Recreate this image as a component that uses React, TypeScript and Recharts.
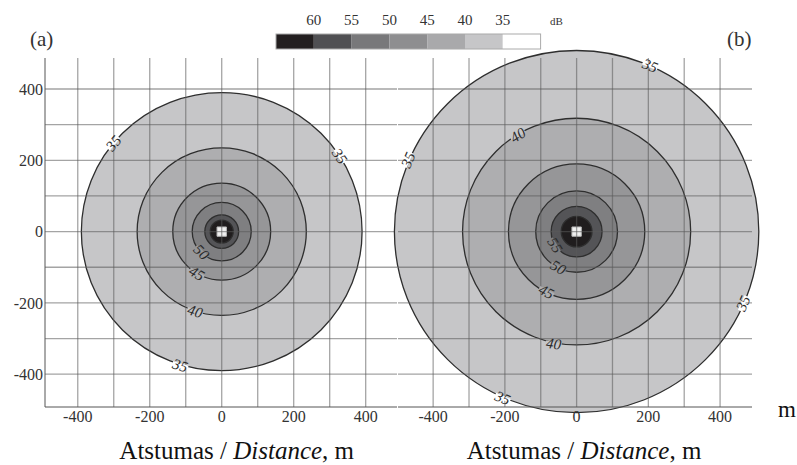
import React from 'react';
import { ComposedChart, XAxis, YAxis, ReferenceArea, ReferenceLine, ReferenceDot } from 'recharts';

// ---- data ----
const levels = [35, 40, 45, 50, 55, 60];
const levelColors = ['#c6c6c8', '#aeaeb0', '#969698', '#7f7f81', '#545457', '#201d1e'];
const radiiA = [390, 235, 136, 82, 47, 32];
const radiiB = [508, 318, 190, 114, 71, 43];
const sourceHalf = 13;

const gridTicks = [-400, -300, -200, -100, 0, 100, 200, 300, 400];
const axisTicks = [-400, -200, 0, 200, 400];
const minorTicks = [
  -480, -460, -440, -420, -400, -380, -360, -340, -320, -300, -280, -260, -240, -220, -200,
  -180, -160, -140, -120, -100, -80, -60, -40, -20, 0, 20, 40, 60, 80, 100, 120, 140, 160,
  180, 200, 220, 240, 260, 280, 300, 320, 340, 360, 380, 400, 420, 440, 460, 480,
];

const legendLabels = ['60', '55', '50', '45', '40', '35'];
const legendColors = ['#231f20', '#505053', '#78787a', '#8e8e90', '#a9a9ab', '#c6c6c8', '#ffffff'];

const labelsA = [
  { text: '35', x: -301, y: 248, angle: -50 },
  { text: '35', x: 328, y: 212, angle: 56 },
  { text: '35', x: -115, y: -375, angle: 17 },
  { text: '40', x: -74, y: -223, angle: 16 },
  { text: '45', x: -69, y: -117, angle: 30 },
  { text: '50', x: -56, y: -57, angle: 44 },
];
const labelsB = [
  { text: '35', x: 205, y: 466, angle: 22 },
  { text: '35', x: -470, y: 201, angle: -66 },
  { text: '35', x: 464, y: -201, angle: -66 },
  { text: '35', x: -206, y: -466, angle: 23 },
  { text: '40', x: -164, y: 271, angle: -33 },
  { text: '40', x: -64, y: -314, angle: 8 },
  { text: '45', x: -84, y: -168, angle: 27 },
  { text: '50', x: -51, y: -100, angle: 30 },
  { text: '55', x: -60, y: -38, angle: 58 },
];

const FONT = "'Liberation Serif', 'Times New Roman', serif";
const W = 797;
const H = 465;

const outerColor = (text: string) => {
  const i = levels.indexOf(Number(text));
  return i <= 0 ? '#ffffff' : levelColors[i - 1];
};

const ellipseShape = (fill: string, stroke: string, sw: number) => (p: any) => {
  const { x, y, width, height } = p;
  return (
    <ellipse
      cx={x + width / 2}
      cy={y + height / 2}
      rx={Math.abs(width) / 2}
      ry={Math.abs(height) / 2}
      fill={fill}
      stroke={stroke}
      strokeWidth={sw}
    />
  );
};

const labelShape = (text: string, angle: number) => (p: any) => {
  const { cx, cy } = p;
  return (
    <g transform={`translate(${cx},${cy}) rotate(${angle})`}>
      <rect x={-8} y={-2} width={16} height={4} fill={outerColor(text)} />
      <text
        x={0}
        y={0}
        dy="0.35em"
        textAnchor="middle"
        fontFamily={FONT}
        fontStyle="italic"
        fontSize={15}
        fill="#2a2a2a"
      >
        {text}
      </text>
    </g>
  );
};

type PanelProps = {
  radii: number[];
  labels: { text: string; x: number; y: number; angle: number }[];
  xDomain: [number, number];
  yDomain: [number, number];
  left: number;
  right: number;
  showYLabels: boolean;
  leftMinor: boolean;
};

const axisStroke = '#555';

function Panel({ radii, labels, xDomain, yDomain, left, right, showYLabels, leftMinor }: PanelProps) {
  const yW = showYLabels ? 40 : 0;
  return (
    <ComposedChart
      width={W}
      height={H}
      data={[{ x: 0, y: 0 }]}
      margin={{ top: 58, bottom: 28, left: left - yW, right: W - right }}
    >
      <XAxis
        xAxisId="b"
        type="number"
        dataKey="x"
        domain={xDomain}
        allowDataOverflow
        ticks={axisTicks}
        orientation="bottom"
        height={30}
        tickSize={0}
        tickMargin={4}
        tickLine={false}
        axisLine={{ stroke: axisStroke }}
        tick={{ fill: '#333', fontSize: 16, fontFamily: FONT }}
        interval={0}
      />
      <XAxis
        xAxisId="t"
        type="number"
        domain={xDomain}
        allowDataOverflow
        ticks={minorTicks}
        orientation="top"
        height={0}
        mirror
        tickSize={3}
        tick={false}
        tickLine={{ stroke: '#666' }}
        axisLine={{ stroke: axisStroke }}
        interval={0}
      />
      <YAxis
        yAxisId="l"
        type="number"
        dataKey="y"
        domain={yDomain}
        allowDataOverflow
        ticks={leftMinor ? minorTicks : axisTicks}
        width={yW}
        mirror={leftMinor}
        tickSize={leftMinor ? 3 : 0}
        tickMargin={2}
        tickLine={leftMinor ? { stroke: '#666' } : false}
        tick={showYLabels ? { fill: '#333', fontSize: 16, fontFamily: FONT } : false}
        axisLine={{ stroke: axisStroke }}
        interval={0}
      />
      <YAxis
        yAxisId="r"
        type="number"
        orientation="right"
        domain={yDomain}
        allowDataOverflow
        ticks={minorTicks}
        width={0}
        mirror
        tickSize={3}
        tick={false}
        tickLine={{ stroke: '#666' }}
        axisLine={{ stroke: axisStroke }}
        interval={0}
      />
      {radii.map((r, i) => (
        <ReferenceArea
          key={'ring' + i}
          xAxisId="b"
          yAxisId="l"
          x1={-r}
          x2={r}
          y1={-r}
          y2={r}
          ifOverflow="hidden"
          shape={ellipseShape(levelColors[i], '#2e2e2e', 1.3)}
        />
      ))}
      <ReferenceArea
        xAxisId="b"
        yAxisId="l"
        x1={-sourceHalf}
        x2={sourceHalf}
        y1={-sourceHalf}
        y2={sourceHalf}
        fill="#f0f0f0"
        fillOpacity={1}
        stroke="#bbb"
        strokeWidth={1}
      />
      {gridTicks.map((v) => (
        <ReferenceLine
          key={'gx' + v}
          xAxisId="b"
          yAxisId="l"
          x={v}
          stroke="#5a5a5a"
          strokeOpacity={0.55}
          strokeWidth={1.3}
        />
      ))}
      {gridTicks.map((v) => (
        <ReferenceLine
          key={'gy' + v}
          xAxisId="b"
          yAxisId="l"
          y={v}
          stroke="#5a5a5a"
          strokeOpacity={0.55}
          strokeWidth={1.3}
        />
      ))}
      {labels.map((l, i) => (
        <ReferenceDot
          key={'lab' + i}
          xAxisId="b"
          yAxisId="l"
          x={l.x}
          y={l.y}
          r={1}
          shape={labelShape(l.text, l.angle)}
        />
      ))}
    </ComposedChart>
  );
}

function Overlay() {
  const barX = 276;
  const barY = 34;
  const cellW = 37.8;
  const cellH = 15;
  return (
    <svg width={W} height={H} style={{ position: 'absolute', left: 0, top: 0, pointerEvents: 'none' }}>
      {legendColors.map((c, i) => (
        <rect key={'c' + i} x={barX + i * cellW} y={barY} width={cellW} height={cellH} fill={c} />
      ))}
      <rect x={barX} y={barY} width={cellW * 7} height={cellH} fill="none" stroke="#aaa" strokeWidth={1} />
      {legendLabels.map((t, i) => (
        <text
          key={'l' + i}
          x={barX + (i + 1) * cellW}
          y={25}
          textAnchor="middle"
          fontFamily={FONT}
          fontSize={15}
          fill="#333"
        >
          {t}
        </text>
      ))}
      <text x={550} y={25} fontFamily={FONT} fontSize={11} fill="#333">dB</text>
      <text x={30} y={46} fontFamily={FONT} fontSize={21} fill="#333">(a)</text>
      <text x={727} y={46} fontFamily={FONT} fontSize={21} fill="#333">(b)</text>
      <text x={236.7} y={459} textAnchor="middle" fontFamily={FONT} fontSize={25} fill="#111">
        Atstumas / <tspan fontStyle="italic">Distance</tspan>, m
      </text>
      <text x={584} y={459} textAnchor="middle" fontFamily={FONT} fontSize={25} fill="#111">
        Atstumas / <tspan fontStyle="italic">Distance</tspan>, m
      </text>
      <text x={778} y={417} fontFamily={FONT} fontSize={23} fill="#111">m</text>
    </svg>
  );
}

export default function App() {
  return (
    <div style={{ position: 'absolute', left: 0, top: 0, width: W, height: H, background: '#fff' }}>
      <div style={{ position: 'absolute', left: 0, top: 0 }}>
        <Panel
          radii={radiiA}
          labels={labelsA}
          xDomain={[-491, 487]}
          yDomain={[-492, 487]}
          left={45}
          right={397}
          showYLabels
          leftMinor={false}
        />
      </div>
      <div style={{ position: 'absolute', left: 0, top: 0 }}>
        <Panel
          radii={radiiB}
          labels={labelsB}
          xDomain={[-498, 489]}
          yDomain={[-492, 487]}
          left={398}
          right={752}
          showYLabels={false}
          leftMinor
        />
      </div>
      <Overlay />
    </div>
  );
}
